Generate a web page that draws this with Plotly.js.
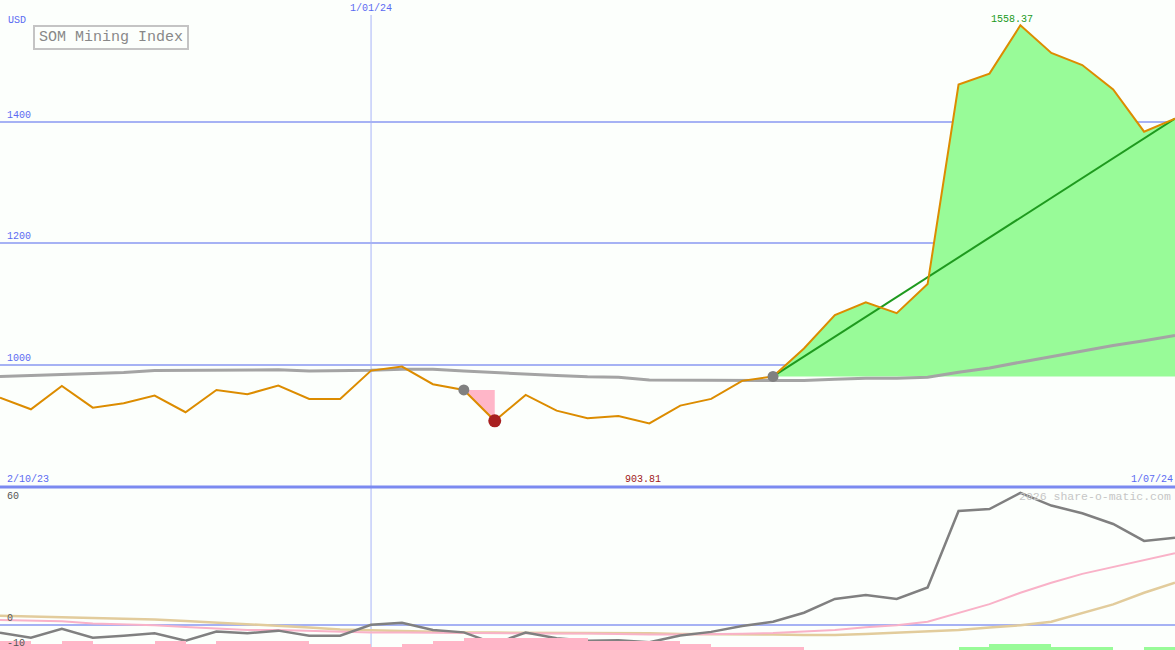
<!DOCTYPE html>
<html>
<head>
<meta charset="utf-8">
<script src="https://cdn.plot.ly/plotly-3.0.1.min.js"></script>
<style>
html,body{margin:0;padding:0;background:#fcfffc;}
#chart{width:1175px;height:650px;}
</style>
</head>
<body>
<div id="chart"></div>
<script>
// ---- data (weekly points) ----
const weeks = [0,1,2,3,4,5,6,7,8,9,10,11,12,13,14,15,16,17,18,19,20,21,22,23,24,25,26,27,28,29,30,31,32,33,34,35,36,37,38];
const price = [946.2,927.0,965.4,929.7,936.9,949.5,922.1,958.8,951.7,965.9,944.0,944.0,990.6,997.2,968.2,958.8,908.0,950.6,924.8,912.2,916.0,903.81,933.0,944.0,973.7,981.0,1027,1082,1103,1085,1133,1461,1479,1558.37,1513,1493,1453,1383.5,1405];
const movingAvg = [980.7,982.4,983.5,985.7,987.3,990.6,990.6,990.6,991.8,991.8,990.1,990.1,991.0,992.9,992.9,990.1,987.3,985.7,982.4,980.4,979.7,975.3,975.3,974.2,974.2,974.2,974.2,976.4,978.1,978.1,979.7,988.0,995.0,1004.4,1013.7,1022.5,1031.8,1039.5,1048.3];
const momentum = [-3.1,-5.2,-1.6,-5.2,-4.4,-3.4,-6.4,-2.7,-3.4,-2.3,-4.4,-4.4,0.1,0.9,-2.0,-3.0,-7.6,-3.1,-5.4,-6.4,-6.2,-7.0,-4.3,-2.8,-0.4,1.3,5.0,10.6,12.2,10.6,15.3,46.4,47.2,53.8,48.6,45.5,41.1,34.2,35.5];
const fastLine = [2.0,1.7,1.5,0.6,0.3,-0.1,-0.8,-1.4,-2.0,-2.0,-2.4,-2.7,-3.1,-3.1,-3.2,-3.4,-3.6,-3.6,-3.5,-3.5,-3.8,-3.9,-3.9,-3.9,-3.6,-3.3,-2.7,-2.0,-0.9,-0.1,1.3,5.0,8.5,13.1,17.2,20.8,23.5,26.5,29.2];
const slowLine = [3.8,3.5,3.4,3.0,2.7,2.2,1.6,1.0,0.3,-0.3,-1.0,-1.8,-2.2,-2.3,-2.7,-3.1,-3.1,-3.1,-3.1,-3.1,-3.4,-3.4,-3.7,-3.7,-3.7,-3.9,-4.1,-4.1,-3.7,-3.1,-2.7,-2.0,-1.0,-0.1,1.3,4.8,8.4,13.1,17.2];
const histNeg = [3,2,3,2,2,3,2,3,3,3,2,2,1,2,3,4,4,4,4,3,3,3,2,1,1,1,0,0,0,0,0,0,0,0,0,0,0,0];
const histPos = [0,0,0,0,0,0,0,0,0,0,0,0,0,0,0,0,0,0,0,0,0,0,0,0,0,0,0,0,0,0,0,1,2,2,1,1,0,1];
const priceTicks = [1000,1200,1400];
const lowerTicks = [60,0,-10];
const dateLabels = ['2/10/23','1/01/24','1/07/24'];
const dateIdx = [0,12,38];
const entryIdx = [15,25];
const exitIdx = [16];
const chartTitle = 'SOM Mining Index';
const currency = 'USD';
const watermark = '2026 share-o-matic.com';

// ---- derived helpers ----
const W = 1175, H = 650;
const mono = 'Liberation Mono, DejaVu Sans Mono, monospace';
const blue = '#5b6bf2';
const yTopRange = [800, 1600];
const yLowRange = [-10.18, 55.96];
const topDomain = [163.5/H, 1];
const lowDomain = [0, 162.5/H];

const iMax = price.indexOf(Math.max(...price));
const iMin = price.indexOf(Math.min(...price));
const barX = histNeg.map((_, i) => weeks[i] + 0.5);

const traces = [];
// histogram bars in lower panel
traces.push({type:'bar', x:barX, y:histNeg, width:1, xaxis:'x', yaxis:'y3',
  marker:{color:'#ffb6c8', line:{width:0}}, hoverinfo:'skip'});
traces.push({type:'bar', x:barX, y:histPos, width:1, xaxis:'x', yaxis:'y3',
  marker:{color:'#98fb98', line:{width:0}}, hoverinfo:'skip'});
// lower panel lines
traces.push({type:'scatter', mode:'lines', x:weeks, y:slowLine, xaxis:'x', yaxis:'y2',
  line:{color:'#e2cc9c', width:2.5}, hoverinfo:'skip'});
traces.push({type:'scatter', mode:'lines', x:weeks, y:fastLine, xaxis:'x', yaxis:'y2',
  line:{color:'#f9b2c8', width:2}, hoverinfo:'skip'});
traces.push({type:'scatter', mode:'lines', x:weeks, y:momentum, xaxis:'x', yaxis:'y2',
  line:{color:'#808080', width:2.5}, hoverinfo:'skip'});

// green gain area from second entry to end
const gStart = entryIdx[1];
const gBase = price[gStart];
const gx = weeks.slice(gStart).concat([weeks[weeks.length-1], weeks[gStart]]);
const gy = price.slice(gStart).concat([gBase, gBase]);
traces.push({type:'scatter', mode:'lines', x:gx, y:gy, fill:'toself', fillcolor:'#98fb98',
  line:{width:0, color:'rgba(0,0,0,0)'}, xaxis:'x', yaxis:'y', hoverinfo:'skip'});
// pink loss area from first entry to exit
const pS = entryIdx[0], pE = exitIdx[0];
traces.push({type:'scatter', mode:'lines', x:[weeks[pS], weeks[pE], weeks[pE]], y:[price[pS], price[pE], price[pS]],
  fill:'toself', fillcolor:'#ffb6c8', line:{width:0, color:'rgba(0,0,0,0)'}, xaxis:'x', yaxis:'y', hoverinfo:'skip'});
// moving average
traces.push({type:'scatter', mode:'lines', x:weeks, y:movingAvg, xaxis:'x', yaxis:'y',
  line:{color:'#a4a4a4', width:3}, hoverinfo:'skip'});
// trend line
const last = weeks.length-1;
traces.push({type:'scatter', mode:'lines', x:[weeks[gStart], weeks[last]], y:[gBase, price[last]], xaxis:'x', yaxis:'y',
  line:{color:'#1e9a1e', width:2}, hoverinfo:'skip'});
// price
traces.push({type:'scatter', mode:'lines', x:weeks, y:price, xaxis:'x', yaxis:'y',
  line:{color:'#dc8c00', width:2}, hoverinfo:'skip'});
// markers
traces.push({type:'scatter', mode:'markers', x:entryIdx.map(i=>weeks[i]), y:entryIdx.map(i=>price[i]), xaxis:'x', yaxis:'y',
  marker:{color:'#808080', size:11, line:{width:0}}, hoverinfo:'skip'});
traces.push({type:'scatter', mode:'markers', x:exitIdx.map(i=>weeks[i]), y:exitIdx.map(i=>price[i]), xaxis:'x', yaxis:'y',
  marker:{color:'#a82020', size:13, line:{width:0}}, hoverinfo:'skip'});

const small = {family:mono, size:10, color:blue};
const annotations = [];
priceTicks.forEach(v => annotations.push({xref:'paper', x:6/W, xanchor:'left', yref:'y', y:v, yanchor:'bottom',
  text:String(v), showarrow:false, font:small, borderpad:0}));
lowerTicks.forEach(v => {
  if (v > yLowRange[1]) {
    annotations.push({xref:'paper', x:6/W, xanchor:'left', yref:'y2 domain', y:1, yanchor:'top', yshift:-2,
      text:String(v), showarrow:false, font:{family:mono, size:10, color:'#555'}, borderpad:0});
  } else {
    annotations.push({xref:'paper', x:6/W, xanchor:'left', yref:'y2', y:v, yanchor:'bottom',
      text:String(v), showarrow:false, font:{family:mono, size:10, color:'#555'}, borderpad:0});
  }
});
annotations.push({xref:'paper', x:6/W, xanchor:'left', yref:'paper', y:1-21/H, yanchor:'middle',
  text:currency, showarrow:false, font:small});
annotations.push({xref:'x', x:weeks[dateIdx[1]], xanchor:'center', yref:'paper', y:1, yanchor:'top', yshift:-2,
  text:dateLabels[1], showarrow:false, font:small, borderpad:0});
annotations.push({xref:'x', x:weeks[dateIdx[0]], xanchor:'left', xshift:6, yref:'y', y:yTopRange[0], yanchor:'bottom', yshift:1,
  text:dateLabels[0], showarrow:false, font:small, borderpad:0});
annotations.push({xref:'x', x:weeks[dateIdx[2]], xanchor:'right', xshift:-1, yref:'y', y:yTopRange[0], yanchor:'bottom', yshift:1,
  text:dateLabels[2], showarrow:false, font:small, borderpad:0});
annotations.push({xref:'x', x:weeks[iMin], xanchor:'center', xshift:-6, yref:'y', y:yTopRange[0], yanchor:'bottom', yshift:1,
  text:price[iMin].toFixed(2), showarrow:false, font:{family:mono, size:10, color:'#a01818'}, borderpad:0});
annotations.push({xref:'x', x:weeks[iMax], xanchor:'center', xshift:-8, yref:'y', y:price[iMax], yanchor:'bottom', yshift:-1,
  text:price[iMax].toFixed(2), showarrow:false, font:{family:mono, size:10, color:'#1a9a1a'}, borderpad:0});
annotations.push({xref:'paper', x:33/W, xanchor:'left', yref:'paper', y:1-25/H, yanchor:'top',
  text:chartTitle, showarrow:false, font:{family:mono, size:15, color:'#888888'},
  bordercolor:'#c4c4c4', borderwidth:2, borderpad:1, width:150, height:19, align:'center'});
annotations.push({xref:'paper', x:1-2/W, xanchor:'right', yref:'paper', y:1-496/H, yanchor:'middle',
  text:watermark, showarrow:false, font:{family:mono, size:11.5, color:'#c6c6c6'}});

const shapes = [
  {type:'line', xref:'x', x0:weeks[dateIdx[1]], x1:weeks[dateIdx[1]], yref:'paper', y0:0, y1:1-15/H,
   line:{color:'#a8b4f8', width:1}, layer:'below'},
  {type:'line', xref:'paper', x0:0, x1:1, yref:'paper', y0:1-487/H, y1:1-487/H,
   line:{color:'#7b8af0', width:3}, layer:'above'}
];

const layout = {
  width:W, height:H,
  margin:{l:0, r:0, t:0, b:0},
  paper_bgcolor:'#fcfffc', plot_bgcolor:'#fcfffc',
  showlegend:false, hovermode:false, barmode:'overlay', bargap:0,
  xaxis:{range:[weeks[0], weeks[last]], showgrid:false, zeroline:false, showticklabels:false, ticks:'', showline:false, fixedrange:true},
  yaxis:{domain:topDomain, range:yTopRange, tickvals:priceTicks, showticklabels:false, ticks:'',
    gridcolor:'#a6b2f4', gridwidth:2, zeroline:false, showline:false},
  yaxis2:{domain:lowDomain, range:yLowRange, tickvals:[0], showticklabels:false, ticks:'',
    gridcolor:'#a6b2f4', gridwidth:2, zeroline:false, showline:false},
  yaxis3:{overlaying:'y2', range:[0,54], visible:false, showgrid:false, zeroline:false},
  annotations:annotations,
  shapes:shapes
};

Plotly.newPlot('chart', traces, layout, {staticPlot:true, displayModeBar:false});
</script>
</body>
</html>
